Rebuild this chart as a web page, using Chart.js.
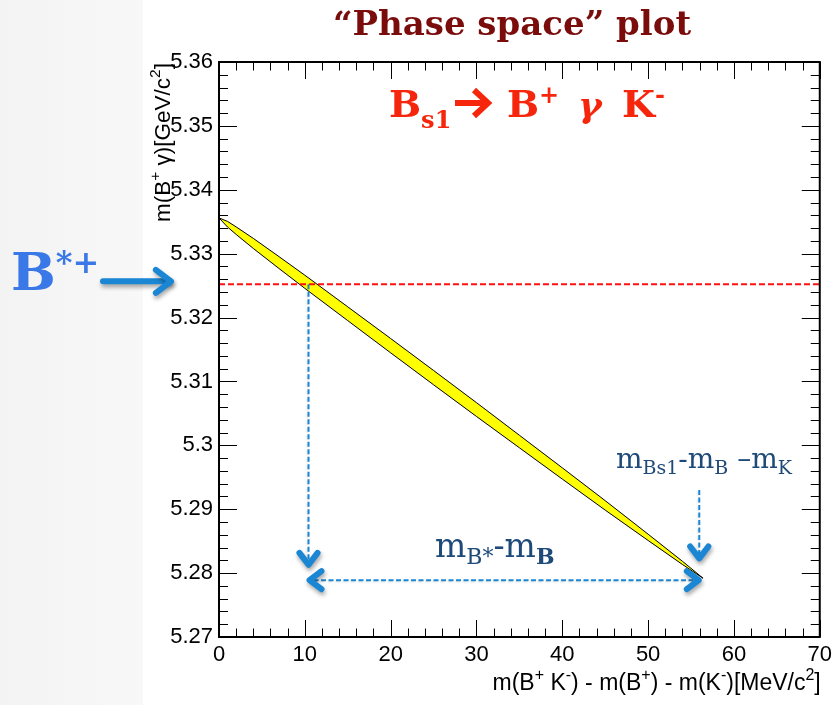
<!DOCTYPE html>
<html>
<head>
<meta charset="utf-8">
<script src="https://cdn.jsdelivr.net/npm/chart.js@4"></script>
<style>
  html, body { margin: 0; padding: 0; background: #fff; }
  canvas { display: block; }
</style>
</head>
<body>
<canvas id="phase-space" width="837" height="705"></canvas>
<script>
// m(B+K-) - m(B+) - m(K-) in MeV/c2, and the two edges of the allowed m(B+ gamma) band in GeV/c2
const massDiff  = [0, 1, 2, 4, 7, 10, 15, 20, 25, 30, 35, 40, 45, 50, 54, 56.4];
const upperEdge = [5.3356, 5.33504, 5.33419, 5.33239, 5.32953, 5.32663, 5.32168, 5.31672, 5.31172, 5.30668, 5.30158, 5.29648, 5.29134, 5.28609, 5.28185, 5.2792];
const lowerEdge = [5.3356, 5.33416, 5.33301, 5.33081, 5.32767, 5.32457, 5.31952, 5.31448, 5.30948, 5.30452, 5.29962, 5.29472, 5.28986, 5.28511, 5.28135, 5.2792];

const xTickValues = [0, 10, 20, 30, 40, 50, 60, 70];
const xTickLabels = ['0', '10', '20', '30', '40', '50', '60', '70'];
const yTickValues = [5.27, 5.28, 5.29, 5.30, 5.31, 5.32, 5.33, 5.34, 5.35, 5.36];
const yTickLabels = ['5.27', '5.28', '5.29', '5.3', '5.31', '5.32', '5.33', '5.34', '5.35', '5.36'];

// B*+ mass line and the blue arrows (data units)
const bStarMass = 5.3252;
const bStarDrop = { x: 10.43, from: bStarMass, to: 5.2813 };
const bStarGap  = { y: 5.2789, from: 10.55, to: 55.9 };
const endDrop   = { x: 55.96, from: 5.2930, to: 5.2823 };

const ARROW_BLUE = '#1b87d4';
const LABEL_BLUE = '#1d4a78';

function richText(ctx, parts, x, y, align) {
  // parts: [text, font, dy]
  let w = 0;
  parts.forEach(p => { ctx.font = p[1]; p.w = ctx.measureText(p[0]).width; w += p.w; });
  let cx = align === 'right' ? x - w : (align === 'center' ? x - w / 2 : x);
  parts.forEach(p => {
    ctx.font = p[1];
    ctx.fillText(p[0], cx, y + (p[2] || 0));
    cx += p.w;
  });
}

function chevron(ctx, x, y, ang, len) {
  const a1 = ang + Math.PI - 0.65, a2 = ang + Math.PI + 0.65;
  ctx.beginPath();
  ctx.moveTo(x + len * Math.cos(a1), y + len * Math.sin(a1));
  ctx.lineTo(x, y);
  ctx.lineTo(x + len * Math.cos(a2), y + len * Math.sin(a2));
  ctx.stroke();
}

function shadowOn(ctx) {
  ctx.shadowColor = 'rgba(0,0,0,0.35)';
  ctx.shadowBlur = 4;
  ctx.shadowOffsetX = 1;
  ctx.shadowOffsetY = 3;
}

const decor = {
  id: 'decor',
  beforeDraw(chart) {
    const ctx = chart.ctx;
    ctx.save();
    ctx.fillStyle = '#fff';
    ctx.fillRect(0, 0, chart.width, chart.height);
    const g = ctx.createLinearGradient(0, 0, 143, 0);
    g.addColorStop(0, '#f3f3f3');
    g.addColorStop(1, '#f8f8f8');
    ctx.fillStyle = g;
    ctx.fillRect(0, 0, 143, chart.height);
    ctx.restore();
  },
  afterDatasetsDraw(chart) {
    const ctx = chart.ctx;
    const a = chart.chartArea;
    const xs = chart.scales.x, ys = chart.scales.y;
    ctx.save();

    // ROOT style ticks on all four sides
    ctx.strokeStyle = '#000';
    ctx.lineWidth = 1;
    ctx.beginPath();
    for (let v = 0; v <= 70.001; v += 2) {
      const px = Math.round(xs.getPixelForValue(v)) + 0.5;
      const len = Math.abs(v % 10) < 0.001 ? 17 : 8.5;
      ctx.moveTo(px, a.bottom); ctx.lineTo(px, a.bottom - len);
      ctx.moveTo(px, a.top); ctx.lineTo(px, a.top + len);
    }
    for (let i = 0; i <= 45; i++) {
      const v = 5.27 + i * 0.002;
      const py = Math.round(ys.getPixelForValue(v)) + 0.5;
      const len = i % 5 === 0 ? 18 : 9;
      ctx.moveTo(a.left, py); ctx.lineTo(a.left + len, py);
      ctx.moveTo(a.right, py); ctx.lineTo(a.right - len, py);
    }
    ctx.stroke();
    ctx.lineWidth = 2;
    ctx.strokeRect(a.left, a.top, a.right - a.left, a.bottom - a.top);

    // blue dashed guides
    ctx.strokeStyle = ARROW_BLUE;
    ctx.lineWidth = 2;
    ctx.setLineDash([5, 2.5]);
    ctx.shadowColor = 'rgba(0,0,0,0.12)';
    ctx.shadowBlur = 2;
    ctx.shadowOffsetX = -1;
    ctx.shadowOffsetY = 1;
    ctx.beginPath();
    const dx = xs.getPixelForValue(bStarDrop.x);
    ctx.moveTo(dx, ys.getPixelForValue(bStarDrop.from));
    ctx.lineTo(dx, ys.getPixelForValue(bStarDrop.to) - 4);
    const gy = ys.getPixelForValue(bStarGap.y);
    ctx.moveTo(xs.getPixelForValue(bStarGap.from) + 4, gy);
    ctx.lineTo(xs.getPixelForValue(bStarGap.to) - 4, gy);
    const ex = xs.getPixelForValue(endDrop.x);
    ctx.moveTo(ex, ys.getPixelForValue(endDrop.from));
    ctx.lineTo(ex, ys.getPixelForValue(endDrop.to) - 4);
    ctx.stroke();
    ctx.setLineDash([]);

    // arrow heads
    shadowOn(ctx);
    ctx.lineWidth = 6;
    ctx.lineCap = 'round';
    ctx.lineJoin = 'round';
    chevron(ctx, dx, ys.getPixelForValue(bStarDrop.to), Math.PI / 2, 15);
    chevron(ctx, xs.getPixelForValue(bStarGap.from), gy, Math.PI, 15);
    chevron(ctx, xs.getPixelForValue(bStarGap.to), gy, 0, 15);
    chevron(ctx, ex, ys.getPixelForValue(endDrop.to), Math.PI / 2, 15);

    // B*+ pointer on the left
    const by = ys.getPixelForValue(bStarMass) - 3;
    ctx.beginPath();
    ctx.moveTo(103, by);
    ctx.lineTo(170, by);
    ctx.stroke();
    chevron(ctx, 171, by, 0, 19);
    ctx.restore();

    ctx.save();
    ctx.textBaseline = 'alphabetic';
    ctx.textAlign = 'left';

    // B*+ label
    ctx.fillStyle = '#3b78e7';
    richText(ctx, [
      ['B', 'bold 53px "DejaVu Serif"', 0],
      ['*+', 'bold 32px "DejaVu Serif"', -17]
    ], 11, 290, 'left');

    // decay label
    ctx.fillStyle = '#f5260c';
    const big = 'bold 38px "DejaVu Serif"', sub = 'bold 24px "DejaVu Serif"';
    richText(ctx, [['B', big, 0], ['s1', sub, 11]], 389, 117, 'left');
    ctx.strokeStyle = '#f5260c';
    ctx.lineWidth = 6;
    ctx.lineCap = 'butt';
    ctx.beginPath(); ctx.moveTo(455, 103); ctx.lineTo(485, 103); ctx.stroke();
    ctx.lineJoin = 'miter';
    ctx.beginPath(); ctx.moveTo(474, 90); ctx.lineTo(488, 103); ctx.lineTo(474, 116); ctx.stroke();
    richText(ctx, [['B', big, 0], ['+', sub, -14]], 507, 117, 'left');
    ctx.font = 'bold italic 36px "DejaVu Serif"';
    ctx.fillText('\u03B3', 578, 117);
    richText(ctx, [['K', big, 0], ['-', sub, -14]], 622, 117, 'left');

    // title
    ctx.fillStyle = '#7a0c0c';
    ctx.font = 'bold 34px "DejaVu Serif"';
    ctx.textAlign = 'center';
    ctx.fillText('\u201CPhase space\u201D plot', 512, 35);
    ctx.textAlign = 'left';

    // mass difference labels
    ctx.fillStyle = LABEL_BLUE;
    richText(ctx, [
      ['m', '33px "DejaVu Serif"', 0],
      ['B*', '22px "DejaVu Serif"', 7],
      ['-m', '33px "DejaVu Serif"', 0],
      ['B', 'bold 22px "DejaVu Serif"', 7]
    ], 435, 557, 'left');
    richText(ctx, [
      ['m', '28px "DejaVu Serif"', 0],
      ['Bs1', '19px "DejaVu Serif"', 6],
      ['-m', '28px "DejaVu Serif"', 0],
      ['B', '19px "DejaVu Serif"', 6],
      [' \u2013m', '28px "DejaVu Serif"', 0],
      ['K', '19px "DejaVu Serif"', 6]
    ], 616, 468, 'left');

    // axis titles
    ctx.fillStyle = '#000';
    const f = '23px "Liberation Sans"', s = '16px "Liberation Sans"';
    richText(ctx, [
      ['m(B', f, 0], ['+', s, -10], [' K', f, 0], ['-', s, -10], [') - m(B', f, 0], ['+', s, -10],
      [') - m(K', f, 0], ['-', s, -10], [')[MeV/c', f, 0], ['2', s, -10], [']', f, 0]
    ], a.right + 1, 690, 'right');
    const fy = '22.5px "Liberation Sans"', sy = '15.5px "Liberation Sans"';
    ctx.translate(170, 222);
    ctx.rotate(-Math.PI / 2);
    richText(ctx, [
      ['m(B', fy, 0], ['+', sy, -10], [' \u03B3)[GeV/c', fy, 0], ['2', sy, -10], [']', fy, 0]
    ], 0, 0, 'left');
    ctx.restore();
  }
};

const pts = (ys) => massDiff.map((x, i) => ({ x: x, y: ys[i] }));

new Chart(document.getElementById('phase-space'), {
  type: 'line',
  data: {
    datasets: [
      {
        label: 'B*+ mass',
        data: [{ x: 0, y: bStarMass }, { x: 70, y: bStarMass }],
        borderColor: '#ff1010',
        borderWidth: 2,
        borderDash: [6, 3],
        pointRadius: 0,
        fill: false
      },
      {
        label: 'upper edge',
        data: pts(upperEdge),
        borderColor: '#000',
        borderWidth: 1,
        pointRadius: 0,
        fill: false
      },
      {
        label: 'lower edge',
        data: pts(lowerEdge),
        borderColor: '#000',
        borderWidth: 1,
        pointRadius: 0,
        backgroundColor: '#ffff00',
        fill: '-1'
      }
    ]
  },
  options: {
    responsive: false,
    animation: false,
    devicePixelRatio: 1,
    layout: { padding: { left: 0, right: 13, top: 62, bottom: 0 } },
    plugins: { legend: { display: false }, tooltip: { enabled: false }, title: { display: false } },
    scales: {
      x: {
        type: 'linear',
        min: 0,
        max: 70,
        afterBuildTicks: s => { s.ticks = xTickValues.map(v => ({ value: v })); },
        afterFit: s => { s.height = 68; },
        grid: { display: false, drawTicks: false },
        border: { display: false },
        ticks: {
          callback: (v, i) => xTickLabels[i],
          color: '#000',
          font: { family: 'Liberation Sans', size: 22 },
          padding: 5,
          maxRotation: 0,
          autoSkip: false
        }
      },
      y: {
        type: 'linear',
        min: 5.27,
        max: 5.36,
        afterBuildTicks: s => { s.ticks = yTickValues.map(v => ({ value: v })); },
        afterFit: s => { s.width = 219; },
        grid: { display: false, drawTicks: false },
        border: { display: false },
        ticks: {
          callback: (v, i) => yTickLabels[i],
          color: '#000',
          font: { family: 'Liberation Sans', size: 22 },
          padding: 6,
          autoSkip: false
        }
      }
    }
  },
  plugins: [decor]
});
</script>
</body>
</html>
